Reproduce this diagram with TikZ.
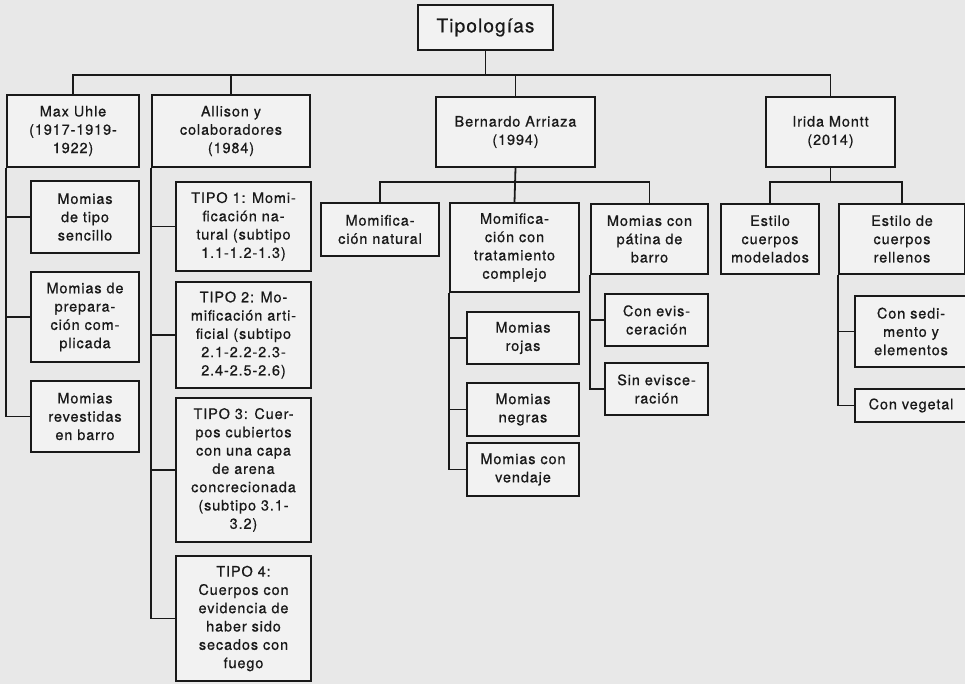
\documentclass[tikz,border=0pt]{standalone}
\usepackage{fontspec}
\setmainfont{TeX Gyre Heros}[LetterSpace=6,FakeBold=0.6]
\definecolor{paper}{gray}{0.91}
\definecolor{boxfill}{gray}{0.95}
\definecolor{ink}{gray}{0.1}
\tikzset{
  tbox/.style={draw=ink,fill=boxfill,line width=1.8pt,align=center,text=ink,
               inner sep=2pt,font=\fontsize{14.5}{18.3}\selectfont},
  link/.style={draw=ink,line width=1.8pt},
}

\begin{document}
\begin{tikzpicture}[x=1pt,y=-1pt]
  \fill[paper] (0,0) rectangle (965,684);
  \useasboundingbox (0,0) rectangle (965,684);
  \coordinate (bus) at (0,75);
  \coordinate (subbus) at (0,182);

  % root and authors
  \node[tbox,minimum width=135pt,minimum height=45pt,
        font=\fontsize{19}{22}\selectfont] (root) at (485.5,27.5) {Tipologías};
  \node[tbox,minimum width=132pt,minimum height=72pt] (uhle) at (73,131)
    {Max Uhle\\(1917-1919-\\1922)};
  \node[tbox,minimum width=158pt,minimum height=72pt] (allison) at (231,131)
    {Allison y\\colaboradores\\(1984)};
  \node[tbox,minimum width=159pt,minimum height=70pt] (arriaza) at (515.5,132)
    {Bernardo Arriaza\\(1994)};
  \node[tbox,minimum width=129pt,minimum height=70pt] (montt) at (830.5,132)
    {Irida Montt\\(2014)};

  % Max Uhle
  \node[tbox,minimum width=108pt,minimum height=72pt] (u1) at (85,217)
    {Momias\\de tipo\\sencillo};
  \node[tbox,minimum width=108pt,minimum height=90pt] (u2) at (85,317)
    {Momias de\\prepara-\\ción com-\\plicada};
  \node[tbox,minimum width=108pt,minimum height=71pt] (u3) at (85,416.5)
    {Momias\\revestidas\\en barro};

  % Allison
  \node[tbox,minimum width=135pt,minimum height=89pt] (a1) at (243.5,226.5)
    {TIPO 1: Momi-\\ficación na-\\tural (subtipo\\1.1-1.2-1.3)};
  \node[tbox,minimum width=135pt,minimum height=106pt] (a2) at (243.5,335)
    {TIPO 2: Mo-\\mificación arti-\\ficial (subtipo\\2.1-2.2-2.3-\\2.4-2.5-2.6)};
  \node[tbox,minimum width=135pt,minimum height=144pt] (a3) at (243.5,470)
    {TIPO 3: Cuer-\\pos cubiertos\\con una capa\\de arena\\concrecionada\\(subtipo 3.1-\\3.2)};
  \node[tbox,minimum width=135pt,minimum height=125pt] (a4) at (243.5,618.5)
    {TIPO 4:\\Cuerpos con\\evidencia de\\haber sido\\secados con\\fuego};

  % Arriaza
  \node[tbox,minimum width=118pt,minimum height=53pt] (b1) at (380,229.5)
    {Momifica-\\ción natural};
  \node[tbox,minimum width=129pt,minimum height=89pt] (b2) at (514.5,247.5)
    {Momifica-\\ción con\\tratamiento\\complejo};
  \node[tbox,minimum width=117pt,minimum height=70pt] (b3) at (649.5,239)
    {Momias con\\pátina de\\barro};
  \node[tbox,minimum width=112pt,minimum height=52pt] (r1) at (523,338)
    {Momias\\rojas};
  \node[tbox,minimum width=112pt,minimum height=53pt] (r2) at (523,409.5)
    {Momias\\negras};
  \node[tbox,minimum width=112pt,minimum height=53pt] (r3) at (523,469.5)
    {Momias con\\vendaje};
  \node[tbox,minimum width=103pt,minimum height=52pt] (p1) at (656.5,320)
    {Con evis-\\ceración};
  \node[tbox,minimum width=103pt,minimum height=52pt] (p2) at (656.5,389)
    {Sin evisce-\\ración};

  % Montt
  \node[tbox,minimum width=98pt,minimum height=70pt] (m1) at (770,239)
    {Estilo\\cuerpos\\modelados};
  \node[tbox,minimum width=126pt,minimum height=70pt] (m2) at (902,239)
    {Estilo de\\cuerpos\\rellenos};
  \node[tbox,minimum width=112pt,minimum height=71pt] (s1) at (911,331.5)
    {Con sedi-\\mento y\\elementos};
  \node[tbox,minimum width=112pt,minimum height=33pt] (s2) at (911,405.5)
    {Con vegetal};

  % connectors
  \draw[link] (root.south) -- (root.south |- bus);
  \draw[link] (uhle.north) -- (uhle.north |- bus) -- (montt.north |- bus)
    -- (montt.north);
  \draw[link] (allison.north) -- (allison.north |- bus);
  \draw[link] (arriaza.north) -- (arriaza.north |- bus);
  \foreach \c in {u1,u2,u3}
    \draw[link] (uhle.south west) |- (\c.west);
  \foreach \c in {a1,a2,a3,a4}
    \draw[link] (allison.south west) |- (\c.west);
  \draw[link] (arriaza.south) -- (b2.north);
  \draw[link] (b1.north) -- (b1.north |- subbus) -- (b3.north |- subbus)
    -- (b3.north);
  \foreach \c in {r1,r2,r3}
    \draw[link] (b2.south west) |- (\c.west);
  \foreach \c in {p1,p2}
    \draw[link] (b3.south west) |- (\c.west);
  \draw[link] (montt.south) -- (montt.south |- subbus);
  \draw[link] (m1.north) -- (m1.north |- subbus) -- (m2.north |- subbus)
    -- (m2.north);
  \foreach \c in {s1,s2}
    \draw[link] (m2.south west) |- (\c.west);
\end{tikzpicture}
\end{document}
